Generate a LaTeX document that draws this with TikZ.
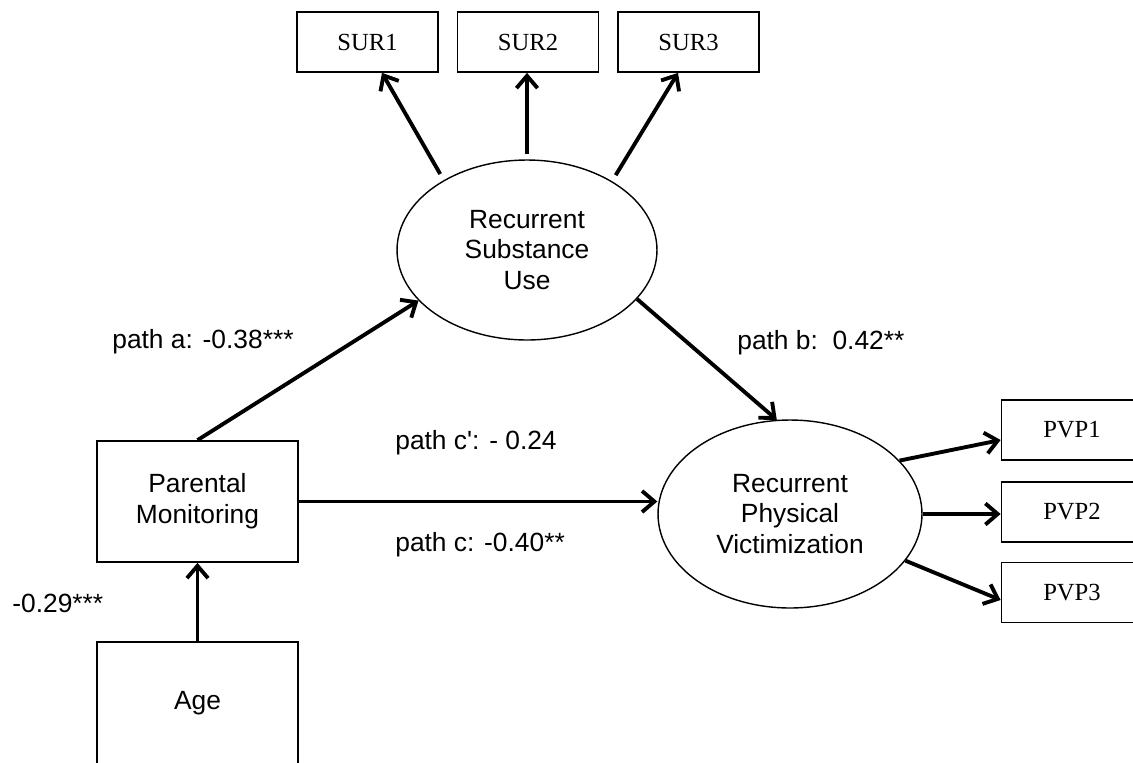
\documentclass[tikz,border=0pt]{standalone}
\usepackage{fontspec}
\newfontfamily\lsans{Liberation Sans}
\newfontfamily\lserif{Liberation Serif}
\usetikzlibrary{arrows.meta,shapes.geometric,calc}
\begin{document}
\begin{tikzpicture}[x=0.02cm,y=-0.02cm,
  box/.style={draw,line width=1pt,inner sep=0pt,fill=white,align=center,font=\lsans\fontsize{15}{17.6}\selectfont},
  obs/.style={draw,line width=1pt,inner sep=0pt,fill=white,minimum width=2.82cm,minimum height=1.2cm,font=\lserif\fontsize{14}{16}\selectfont},
  lat/.style={draw,ellipse,line width=0.8pt,inner sep=0pt,align=center,font=\lsans\fontsize{15}{17.6}\selectfont},
  con/.style={line width=2.2pt,-{Straight Barb[length=7pt,width=12pt,line width=2.2pt]}},
  lab/.style={anchor=west,inner sep=0pt,font=\lsans\fontsize{15}{17.6}\selectfont}]
\useasboundingbox (0,0) rectangle (1133,762);
\clip (0,0) rectangle (1133,762);

\node[obs] (sur1) at (367.5,42) {SUR1};
\node[obs] (sur2) at (528,42) {SUR2};
\node[obs] (sur3) at (688.5,42) {SUR3};

\node[lat,minimum width=5.2cm,minimum height=3.6cm] (rsu) at (527,250) {Recurrent\\Substance\\Use};
\node[lat,minimum width=5.28cm,minimum height=3.76cm] (rpv) at (790,514) {Recurrent\\Physical\\Victimization};

\node[box,minimum width=4.02cm,minimum height=2.42cm] (pm) at (197.5,501.5) {Parental\\Monitoring};
\node[box,minimum width=4.02cm,minimum height=2.44cm] (age) at (197.5,703) {Age};

\node[obs] (pvp1) at (1072,430) {PVP1};
\node[obs] (pvp2) at (1072,512) {PVP2};
\node[obs] (pvp3) at (1072,592.5) {PVP3};

\draw[con,shorten <=4pt] (rsu.140) -- ([xshift=0.29cm]sur1.south);
\draw[con,shorten <=3pt] (rsu.north) -- (rsu.north |- sur2.south);
\draw[con,shorten <=4pt] (rsu.39) -- ([xshift=-0.21cm]sur3.south);
\draw[con] (pm.north) -- (rsu.205);
\draw[con] (rsu.-24) -- (rpv.98);
\draw[con] (pm.east) -- (pm.east -| rpv.west);
\draw[con] (age.north) -- (pm.south);
\draw[con] (rpv.26) -- ([yshift=-0.2cm]pvp1.west);
\draw[con] (rpv.east) -- (rpv.east -| pvp2.west);
\draw[con] (rpv.-22) -- ([yshift=-0.15cm]pvp3.west);

\node[lab] (la) at (112,342) {path a: -0.38***};
\node[lab] (lb) at (737,343) {path b:\ \ 0.42**};
\node[lab] (lcp) at (395,443) {path c': - 0.24};
\node[lab] (lc) at (395,545) {path c: -0.40**};
\node[lab] (lage) at (12,603) {-0.29***};
\end{tikzpicture}
\end{document}
